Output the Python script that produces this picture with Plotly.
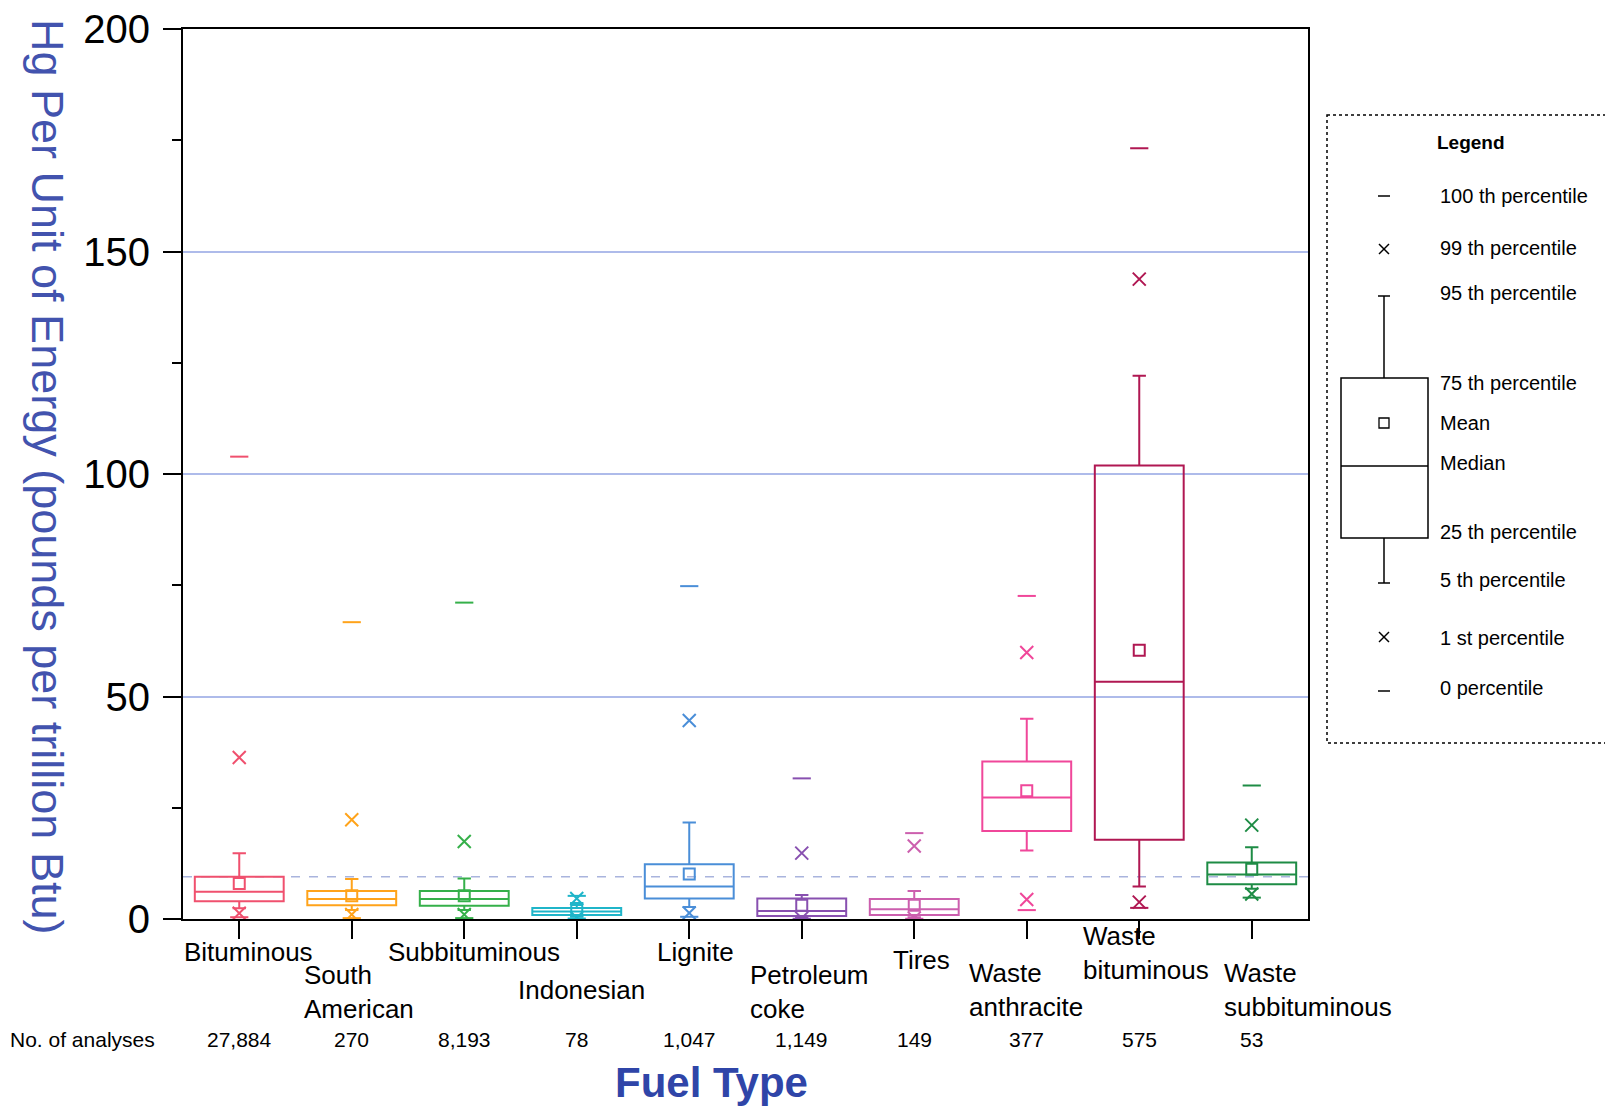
import plotly.graph_objects as go

# ---------------- data ----------------
categories = ["Bituminous", "South American", "Subbituminous", "Indonesian", "Lignite",
              "Petroleum coke", "Tires", "Waste anthracite", "Waste bituminous", "Waste subbituminous"]
n_analyses = ["27,884", "270", "8,193", "78", "1,047", "1,149", "149", "377", "575", "53"]

p100 = [103.9, 66.7, 71.1, 5.2, 74.8, 31.6, 19.3, 72.6, 173.2, 30.0]
p99 = [36.3, 22.3, 17.4, 4.6, 44.6, 14.8, 16.4, 59.9, 143.8, 21.1]
p95 = [14.8, 9.0, 9.1, 3.6, 21.7, 5.4, 6.3, 45.0, 122.1, 16.1]
p75 = [9.5, 6.3, 6.3, 2.5, 12.3, 4.6, 4.5, 35.4, 101.9, 12.7]
mean = [8.0, 5.2, 5.2, 1.9, 10.1, 3.1, 3.1, 28.8, 60.4, 11.2]
median = [6.1, 4.5, 4.5, 1.7, 7.3, 1.8, 2.2, 27.3, 53.3, 10.0]
p25 = [4.0, 3.1, 3.0, 0.9, 4.6, 0.7, 0.9, 19.8, 17.8, 7.8]
p5 = [2.4, 2.0, 2.0, 0.5, 2.7, 0.3, 0.4, 15.4, 7.3, 6.8]
p1 = [1.3, 1.0, 1.0, 0.3, 1.35, 0.2, 0.2, 4.4, 3.8, 5.6]
p0 = [0.4, 0.2, 0.2, 0.1, 0.5, 0.05, 0.05, 2.0, 2.5, 4.8]

colors = ["#F0506E", "#FFA31A", "#35B04A", "#1FB5C9", "#4A8ED8",
          "#8850B0", "#CC5FAE", "#F0479A", "#B01752", "#1E8C45"]

label_text = ["Bituminous", "South<br>American", "Subbituminous", "Indonesian", "Lignite",
              "Petroleum<br>coke", "Tires", "Waste<br>anthracite", "Waste<br>bituminous",
              "Waste<br>subbituminous"]
legend_labels = ["100 th percentile", "99 th percentile", "95 th percentile", "75 th percentile",
                 "Mean", "Median", "25 th percentile", "5 th percentile", "1 st percentile",
                 "0 percentile"]

# ---------------- layout geometry (reference pixel space, page has 8px body margin) ----------------
OFF = 8
W, H = 1613 - 2 * OFF, 1114 - 2 * OFF
L, R, T, B = 183 - OFF, 1308 - OFF, 29 - OFF, 919 - OFF
FONT = "Liberation Sans, Arial, sans-serif"


def px(x):
    return (x - OFF - L) / (R - L)


def py(y):
    return (B - (y - OFF)) / (B - T)


fig = go.Figure()

for i, cat in enumerate(categories):
    fig.add_trace(go.Box(
        x=[cat], q1=[p25[i]], median=[median[i]], q3=[p75[i]],
        lowerfence=[p5[i]], upperfence=[p95[i]],
        boxpoints=False, width=0.79, whiskerwidth=0.15,
        line=dict(color=colors[i], width=2),
        fillcolor="rgba(255,255,255,0)", showlegend=False, hoverinfo="skip"))


def add_points(vals, symbol, size):
    fig.add_trace(go.Scatter(
        x=categories, y=vals, mode="markers", showlegend=False, hoverinfo="skip",
        marker=dict(symbol=symbol, size=size, color=colors,
                    line=dict(color=colors, width=2))))


add_points(p100, "line-ew-open", 13)
add_points(p0, "line-ew-open", 13)
add_points(p99, "x-thin-open", 13)
add_points(p1, "x-thin-open", 13)
add_points(mean, "square-open", 11)

shapes = []
# dashed reference line
shapes.append(dict(type="line", xref="paper", yref="y", x0=0, x1=1, y0=9.5, y1=9.5,
                   line=dict(color="#A9B4DD", width=1.5, dash="dash"), layer="below"))


# ---------------- legend panel ----------------
def pline(x0, y0, x1, y1, w=1.5):
    shapes.append(dict(type="line", xref="paper", yref="paper",
                       x0=px(x0), y0=py(y0), x1=px(x1), y1=py(y1),
                       line=dict(color="black", width=w)))


def prect(x0, y0, x1, y1, w=1.5, dash="solid"):
    shapes.append(dict(type="rect", xref="paper", yref="paper",
                       x0=px(x0), y0=py(y0), x1=px(x1), y1=py(y1),
                       line=dict(color="black", width=w, dash=dash)))


def pcross(cx, cy, s=5):
    pline(cx - s, cy - s, cx + s, cy + s)
    pline(cx - s, cy + s, cx + s, cy - s)


prect(1327, 115, 1660, 743, w=1.5, dash="dot")
gx = 1384
pline(gx - 6, 196, gx + 6, 196)
pcross(gx, 249)
pline(gx - 6, 296, gx + 6, 296)
pline(gx, 296, gx, 378)
prect(1341, 378, 1428, 538)
prect(gx - 5, 418, gx + 5, 428, w=1.3)
pline(1341, 466, 1428, 466)
pline(gx, 538, gx, 583)
pline(gx - 6, 583, gx + 6, 583)
pcross(gx, 637)
pline(gx - 6, 691, gx + 6, 691)

annotations = []
annotations.append(dict(text="<b>Legend</b>", x=px(1435), y=py(142), xref="paper", yref="paper",
                        xanchor="left", yanchor="middle", showarrow=False,
                        font=dict(family=FONT, size=19, color="black")))
legend_y = [196, 248, 293, 383, 423, 463, 532, 580, 638, 688]
for t, yy in zip(legend_labels, legend_y):
    annotations.append(dict(text=t, x=px(1438), y=py(yy), xref="paper", yref="paper",
                            xanchor="left", yanchor="middle", showarrow=False,
                            font=dict(family=FONT, size=20, color="black")))

# category labels (staggered)
label_anchor = ["center", "left", "center", "center", "center", "left", "center", "left", "left", "left"]
label_shift = [9, -50, 10, 5, 6, -54, 7, -60, -58, -30]
label_y = [952, 992, 952, 990, 952, 992, 960, 990, 953, 990]
for i, cat in enumerate(categories):
    annotations.append(dict(text=label_text[i], x=cat, xref="x", y=py(label_y[i]), yref="paper",
                            xanchor=label_anchor[i], xshift=label_shift[i], yanchor="middle",
                            align="left", showarrow=False,
                            font=dict(family=FONT, size=26, color="black")))

# counts row
annotations.append(dict(text="No. of analyses", x=px(8), y=py(1039), xref="paper", yref="paper",
                        xanchor="left", yanchor="middle", showarrow=False,
                        font=dict(family=FONT, size=21, color="black")))
for i, cat in enumerate(categories):
    annotations.append(dict(text=n_analyses[i], x=cat, xref="x", y=py(1039), yref="paper",
                            xanchor="center", yanchor="middle", showarrow=False,
                            font=dict(family=FONT, size=21, color="black")))

# axis titles
annotations.append(dict(text="<b>Fuel Type</b>", x=px(711), y=py(1082), xref="paper", yref="paper",
                        xanchor="center", yanchor="middle", showarrow=False,
                        font=dict(family=FONT, size=42, color="#2F45A8")))
annotations.append(dict(text="Hg Per Unit of Energy (pounds per trillion Btu)", x=px(48), y=py(476),
                        xref="paper", yref="paper", xanchor="center", yanchor="middle",
                        textangle=90, showarrow=False,
                        font=dict(family=FONT, size=45, color="#4253AE")))

fig.update_layout(
    width=W, height=H,
    margin=dict(l=L, r=W - R, t=T, b=H - B, pad=0, autoexpand=False),
    paper_bgcolor="white", plot_bgcolor="white",
    boxmode="overlay", showlegend=False,
    shapes=shapes, annotations=annotations,
    font=dict(family=FONT, color="black"),
)
fig.update_xaxes(
    type="category", categoryorder="array", categoryarray=categories,
    range=[-0.5, len(categories) - 0.5], showticklabels=False,
    ticks="outside", ticklen=18, tickwidth=2, tickcolor="black",
    showline=True, linecolor="black", linewidth=2, mirror=True, showgrid=False, zeroline=False)
fig.update_yaxes(
    range=[0, 200], dtick=50, tick0=0,
    ticks="outside", ticklen=18, tickwidth=2, tickcolor="black",
    ticklabelstandoff=5, ticklabeloverflow="allow",
    tickfont=dict(family=FONT, size=40, color="black"),
    minor=dict(dtick=25, ticks="outside", ticklen=9, tickwidth=2, tickcolor="black", showgrid=False),
    showgrid=True, gridcolor="#AEBBEA", gridwidth=1.5,
    showline=True, linecolor="black", linewidth=2, mirror=True, zeroline=False)

fig.write_html("out.html")
